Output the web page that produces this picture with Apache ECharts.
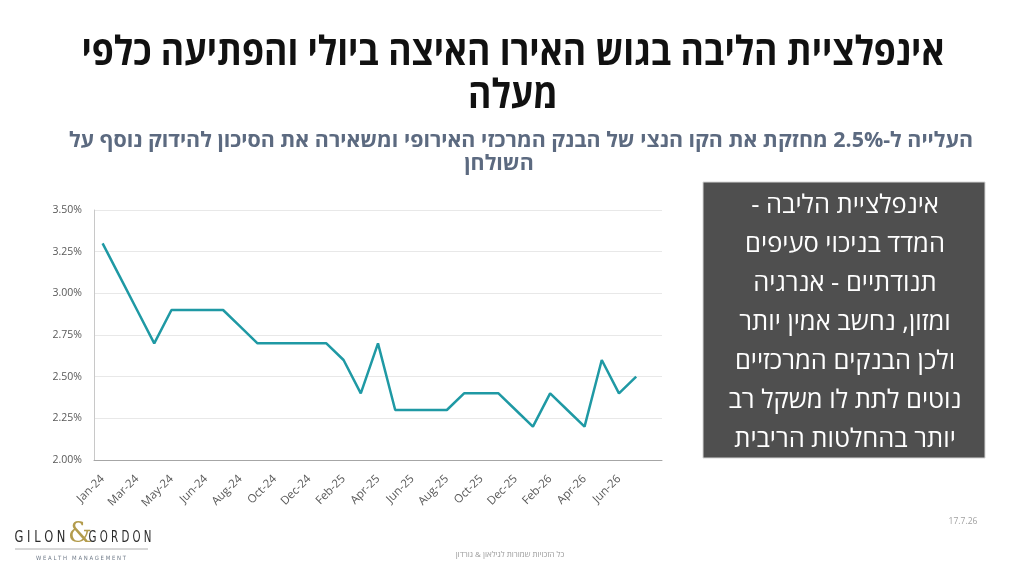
<!DOCTYPE html>
<html lang="he">
<head>
<meta charset="utf-8">
<script src="https://cdn.jsdelivr.net/npm/echarts@6/dist/echarts.min.js"></script>
<style>
html,body{margin:0;padding:0;background:#fff;}
#chart{width:1024px;height:576px;}
</style>
</head>
<body>
<div id="chart"></div>
<script>
const categories = ['Jan-24','Feb-24','Mar-24','Apr-24','May-24','May-24','Jun-24','Jul-24','Aug-24','Sep-24','Oct-24','Nov-24','Dec-24',
  'Jan-25','Feb-25','Mar-25','Apr-25','May-25','Jun-25','Jul-25','Aug-25','Sep-25','Oct-25','Nov-25','Dec-25',
  'Jan-26','Feb-26','Mar-26','Apr-26','May-26','Jun-26','Jul-26',''];
const coreInflation = [3.30,3.10,2.90,2.70,2.90,2.90,2.90,2.90,2.80,2.70,2.70,2.70,2.70,2.70,2.60,2.40,2.70,2.30,2.30,2.30,2.30,2.40,2.40,2.40,2.30,2.20,2.40,2.30,2.20,2.60,2.40,2.50,null];
const yTicks = {min: 2.0, max: 3.5, step: 0.25};
const titleLines = ['אינפלציית הליבה בגוש האירו האיצה ביולי והפתיעה כלפי', 'מעלה'];
const subtitleLines = ['העלייה ל-2.5% מחזקת את הקו הנצי של הבנק המרכזי האירופי ומשאירה את הסיכון להידוק נוסף על', 'השולחן'];
const boxLines = ['אינפלציית הליבה -', 'המדד בניכוי סעיפים', 'תנודתיים - אנרגיה', 'ומזון, נחשב אמין יותר', 'ולכן הבנקים המרכזיים', 'נוטים לתת לו משקל רב', 'יותר בהחלטות הריבית'];
const footerText = 'כל הזכויות שמורות לגילאון & גורדון';
const dateText = '17.7.26';

const RLM = '\u200F';
const rtl = s => RLM + s + RLM;
const HEB = '"Open Sans", "Liberation Sans", "DejaVu Sans", sans-serif';

const graphics = [];
// Title
const titleY = [54, 97];
titleLines.forEach((t, i) => {
  graphics.push({type:'text', x:513, y:titleY[i], scaleX:0.89, silent:true,
    style:{text:rtl(t), x:0, y:0, align:'center', verticalAlign:'middle',
      fill:'#111111', fontSize:40, fontWeight:'bold', fontFamily:HEB}});
});
// Subtitle
const subX = [521, 499], subY = [141, 164];
subtitleLines.forEach((t, i) => {
  graphics.push({type:'text', x:subX[i], y:subY[i], scaleX:1.02, silent:true,
    style:{text:rtl(t), x:0, y:0, align:'center', verticalAlign:'middle',
      fill:'#5c6a80', fontSize:21, fontWeight:'bold', fontFamily:HEB}});
});
// Dark text box
graphics.push({type:'rect', silent:true, shape:{x:703, y:182, width:282, height:276},
  style:{fill:'#4f4f4f', stroke:'#d6d6d6', lineWidth:1}});
boxLines.forEach((t, i) => {
  graphics.push({type:'text', silent:true,
    style:{text:rtl(t), x:845, y:206 + i*39, align:'center', verticalAlign:'middle',
      fill:'#ffffff', fontSize:25.5, fontFamily:HEB}});
});
// Logo
const logoFont = '"DejaVu Sans Condensed", "DejaVu Sans", sans-serif';
graphics.push({type:'text', x:40, y:538, scaleX:0.85, silent:true,
  style:{text:'G I L O N', x:0, y:0, align:'center', verticalAlign:'middle', fill:'#2b2b2b', fontSize:15, fontFamily:logoFont}});
graphics.push({type:'text', x:80, y:535, silent:true,
  style:{text:'&', x:0, y:0, align:'center', verticalAlign:'middle', fill:'#b39c4d', fontSize:27, fontFamily:'"DejaVu Serif", serif'}});
graphics.push({type:'text', x:120, y:538, scaleX:0.76, silent:true,
  style:{text:'G O R D O N', x:0, y:0, align:'center', verticalAlign:'middle', fill:'#2b2b2b', fontSize:15, fontFamily:logoFont}});
graphics.push({type:'line', silent:true, shape:{x1:15, y1:549, x2:148, y2:549}, style:{stroke:'#9a9a9a', lineWidth:0.8}});
graphics.push({type:'text', x:81, y:558, scaleX:0.92, silent:true,
  style:{text:'W E A L T H   M A N A G E M E N T', x:0, y:0, align:'center', verticalAlign:'middle', fill:'#6f7a88', fontSize:5.8, fontFamily:'"DejaVu Sans", sans-serif'}});
// Footer
graphics.push({type:'text', silent:true,
  style:{text:rtl(footerText), x:510, y:555, align:'center', verticalAlign:'middle', fill:'#9a9a9a', fontSize:8, fontFamily:HEB}});
graphics.push({type:'text', silent:true,
  style:{text:dateText, x:963, y:522, align:'center', verticalAlign:'middle', fill:'#a0a0a0', fontSize:8.5, fontFamily:'"Open Sans", sans-serif'}});

const chart = echarts.init(document.getElementById('chart'));
chart.setOption({
  animation: false,
  backgroundColor: '#ffffff',
  grid: {left: 94, right: 362, top: 210, bottom: 116, containLabel: false},
  xAxis: {
    type: 'category', data: categories, boundaryGap: true,
    axisLine: {show: true, lineStyle: {color: '#a6a6a6', width: 1}},
    axisTick: {show: false},
    axisLabel: {interval: 1, rotate: 45, fontSize: 11.5, color: '#595959', fontFamily: '"Open Sans", sans-serif', margin: 17}
  },
  yAxis: {
    type: 'value', min: yTicks.min, max: yTicks.max, interval: yTicks.step,
    axisLine: {show: true, lineStyle: {color: '#c8c8c8', width: 1}},
    axisTick: {show: false},
    splitLine: {lineStyle: {color: '#e8e8e8', width: 1}},
    axisLabel: {formatter: v => v.toFixed(2) + '%', fontSize: 10.5, color: '#595959', fontFamily: '"Open Sans", sans-serif', margin: 12}
  },
  series: [{
    type: 'line', data: coreInflation, symbol: 'none', smooth: false, connectNulls: false,
    lineStyle: {color: '#1f99a4', width: 2.5}
  }],
  graphic: graphics
});
</script>
</body>
</html>
